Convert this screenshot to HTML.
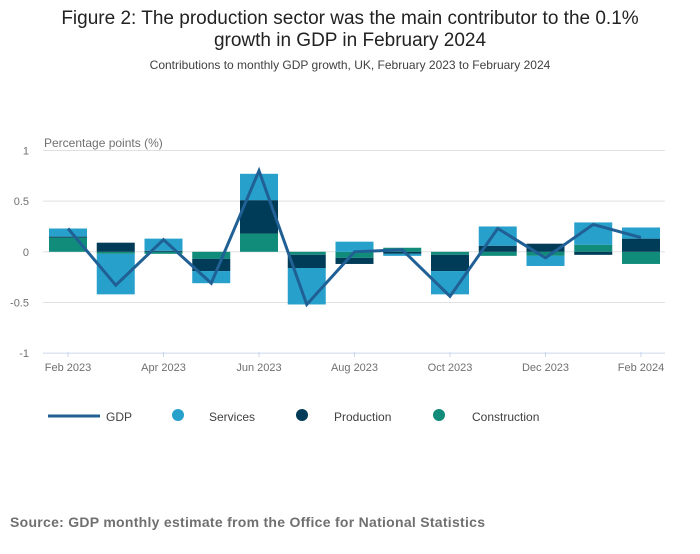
<!DOCTYPE html>
<html><head><meta charset="utf-8"><style>
body{margin:0;width:700px;height:549px;background:#fff;font-family:"Liberation Sans",sans-serif;overflow:hidden}
</style></head><body>
<svg width="700" height="549" xmlns="http://www.w3.org/2000/svg">
<text x="350" y="24" text-anchor="middle" font-size="19" fill="#222">Figure 2: The production sector was the main contributor to the 0.1%</text>
<text x="350" y="46" text-anchor="middle" font-size="19" fill="#222">growth in GDP in February 2024</text>
<text x="350" y="69" text-anchor="middle" font-size="12" fill="#414042">Contributions to monthly GDP growth, UK, February 2023 to February 2024</text>
<text x="44" y="147" font-size="12" fill="#707071">Percentage points (%)</text>
<g id="grid"></g><g id="bars"></g><g id="line"></g><g id="xaxis"></g>
<g>
<g><line x1="48" y1="416" x2="100" y2="416" stroke="#206095" stroke-width="3"/><text x="106" y="421" font-size="12" fill="#414042">GDP</text></g>
<g><circle cx="178" cy="415" r="6" fill="#27a0cc"/><text x="209" y="421" font-size="12" fill="#414042">Services</text></g>
<g><circle cx="302" cy="415" r="6" fill="#003c57"/><text x="334" y="421" font-size="12" fill="#414042">Production</text></g>
<g><circle cx="439" cy="415" r="6" fill="#118c7b"/><text x="472" y="421" font-size="12" fill="#414042">Construction</text></g>
</g>
<text x="10" y="527" font-size="14" font-weight="bold" fill="#707071" textLength="475" lengthAdjust="spacing">Source: GDP monthly estimate from the Office for National Statistics</text>
</svg>
<script>
const months=["Feb 2023","Mar 2023","Apr 2023","May 2023","Jun 2023","Jul 2023","Aug 2023","Sep 2023","Oct 2023","Nov 2023","Dec 2023","Jan 2024","Feb 2024"];
const services=[0.08,-0.40,0.12,-0.12,0.26,-0.36,0.10,-0.02,-0.23,0.19,-0.10,0.22,0.11];
const production=[0.01,0.09,0.01,-0.12,0.33,-0.13,-0.06,-0.02,-0.16,0.06,0.08,-0.03,0.13];
const construction=[0.14,-0.02,-0.02,-0.07,0.18,-0.03,-0.06,0.04,-0.03,-0.04,-0.04,0.07,-0.12];
const gdp=[0.23,-0.33,0.12,-0.31,0.80,-0.52,0.00,0.02,-0.44,0.23,-0.06,0.27,0.14];
const yTicks=[1,0.5,0,-0.5,-1];
const xTickLabels=["Feb 2023","Apr 2023","Jun 2023","Aug 2023","Oct 2023","Dec 2023","Feb 2024"];
const NS="http://www.w3.org/2000/svg";
const y=v=>251.8-v*101.3;
const x=i=>68+i*47.75;
const bw=38;
function mk(t,a,p){const e=document.createElementNS(NS,t);for(const k in a)e.setAttribute(k,a[k]);p.appendChild(e);return e;}
const grid=document.getElementById('grid');
yTicks.forEach(t=>{
 const l=mk('line',{x1:43,x2:665,y1:y(t),y2:y(t),stroke:t===-1?'#ccd6eb':'#e0e0e0','stroke-width':1},grid);
 
 
 const tx=mk('text',{x:29,y:y(t)+4,'text-anchor':'end','font-size':11,fill:'#707071'},grid);
 tx.textContent=String(t);
 
 
});
const bars=document.getElementById('bars');
const series=[["construction",construction,"#118c7b"],["production",production,"#003c57"],["services",services,"#27a0cc"]];
months.forEach((m,i)=>{
 let pos=0,neg=0;
 series.forEach(([n,arr,c])=>{
  const v=arr[i];let a,b;
  if(v>=0){a=pos;b=pos+v;pos=b;}else{a=neg;b=neg+v;neg=b;}
  const r=mk('rect',{x:x(i)-bw/2,width:bw,y:Math.min(y(a),y(b)),height:Math.abs(y(a)-y(b)),fill:c},bars);
  
  
 });
});
const lg=document.getElementById('line');
const pl=mk('polyline',{points:gdp.map((v,i)=>x(i)+','+y(v)).join(' '),fill:'none',stroke:'#206095','stroke-width':3,'stroke-linejoin':'miter'},lg);


const xa=document.getElementById('xaxis');
xTickLabels.forEach(lbl=>{
 const i=months.indexOf(lbl);
 const tk=mk('line',{x1:x(i),x2:x(i),y1:352,y2:357,stroke:'#ccd6eb'},xa);
 
 
 const t=mk('text',{x:x(i),y:371,'text-anchor':'middle','font-size':11,fill:'#707071'},xa);
 t.textContent=lbl;
 
 
});
</script>
</body></html>
